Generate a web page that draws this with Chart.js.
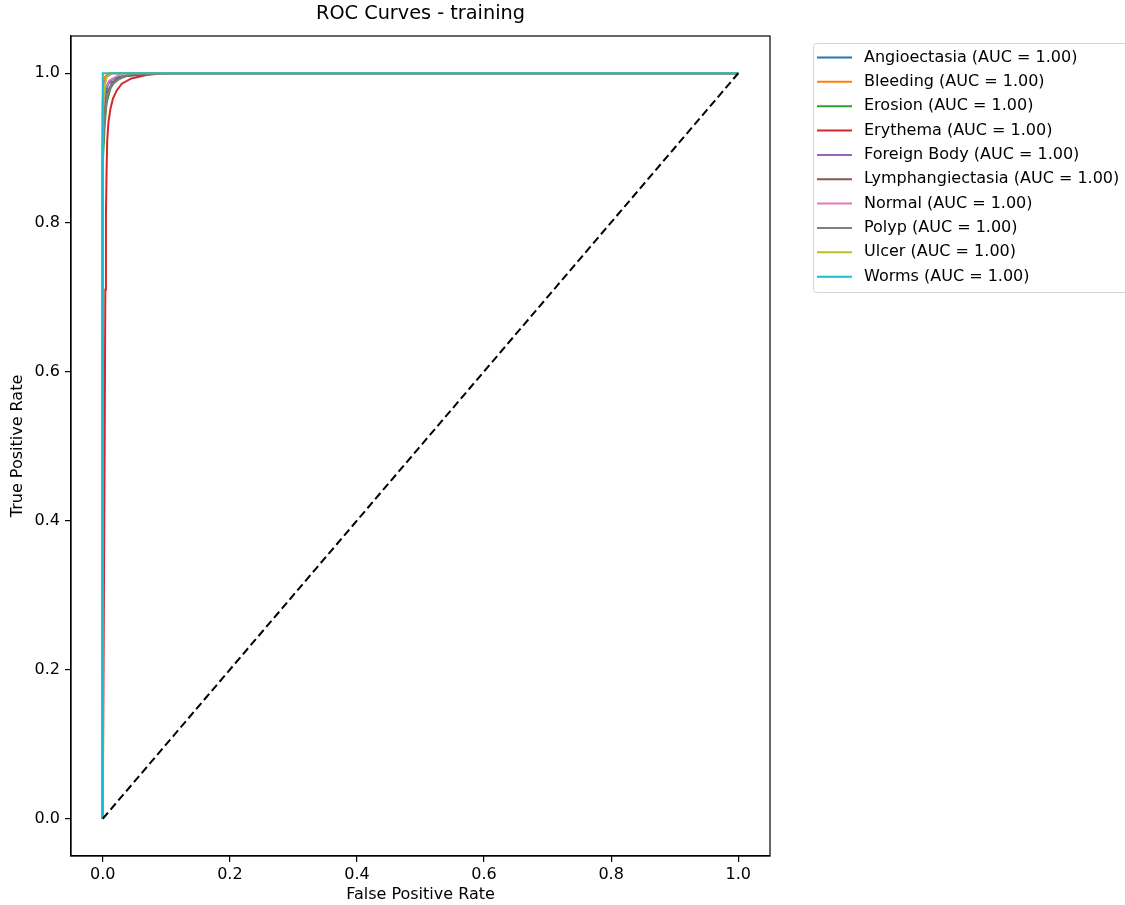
<!DOCTYPE html>
<html>
<head>
<meta charset="utf-8">
<script src="https://cdn.jsdelivr.net/npm/chart.js@4"></script>
<style>
  html, body { margin: 0; padding: 0; background: #fff; }
  #wrap { width: 1125px; height: 905px; }
</style>
</head>
<body>
<div id="wrap"><canvas id="roc" width="1125" height="905"></canvas></div>
<script>
const chartTitle = "ROC Curves - training";
const xTitle = "False Positive Rate";
const yTitle = "True Positive Rate";
const xTicks = [0, 0.2, 0.4, 0.6, 0.8, 1.0];
const yTicks = [0, 0.2, 0.4, 0.6, 0.8, 1.0];

const classNames = ["Angioectasia", "Bleeding", "Erosion", "Erythema", "Foreign Body",
  "Lymphangiectasia", "Normal", "Polyp", "Ulcer", "Worms"];
const aucValues = [1.00, 1.00, 1.00, 1.00, 1.00, 1.00, 1.00, 1.00, 1.00, 1.00];
const classColors = ["#1f77b4", "#ff7f0e", "#2ca02c", "#d62728", "#9467bd",
  "#8c564b", "#e377c2", "#7f7f7f", "#bcbd22", "#17becf"];

// ROC points per class (fpr, tpr)
const angioFpr = [0, 0, 0.002, 0.004, 0.008, 0.015, 0.03, 0.06, 0.1, 1];
const angioTpr = [0, 0.92, 0.95, 0.97, 0.985, 0.992, 0.996, 0.998, 1, 1];
const bleedFpr = [0, 0, 0.003, 0.01, 1];
const bleedTpr = [0, 0.97, 0.995, 1, 1];
const erosionFpr = [0, 0, 0.003, 0.006, 0.012, 0.02, 0.035, 0.06, 1];
const erosionTpr = [0, 0.88, 0.93, 0.96, 0.98, 0.99, 0.996, 1, 1];
const erythemaFpr = [0, 0.003, 0.004, 0.005, 0.006, 0.007, 0.009, 0.012, 0.016, 0.022, 0.03, 0.045, 0.07, 0.1, 1];
const erythemaTpr = [0, 0.5, 0.71, 0.81, 0.87, 0.91, 0.935, 0.952, 0.966, 0.977, 0.986, 0.993, 0.998, 1, 1];
const foreignFpr = [0, 0, 0.002, 0.006, 0.015, 1];
const foreignTpr = [0, 0.96, 0.985, 0.995, 1, 1];
const lymphFpr = [0, 0, 0.003, 0.008, 0.015, 0.03, 0.05, 0.08, 1];
const lymphTpr = [0, 0.9, 0.95, 0.975, 0.988, 0.995, 0.998, 1, 1];
const normalFpr = [0, 0, 0.004, 0.01, 0.02, 0.03, 1];
const normalTpr = [0, 0.95, 0.98, 0.99, 0.995, 1, 1];
const polypFpr = [0, 0, 0.003, 0.007, 0.015, 0.03, 0.05, 1];
const polypTpr = [0, 0.9, 0.94, 0.97, 0.985, 0.995, 1, 1];
const ulcerFpr = [0, 0, 0.002, 0.006, 0.015, 1];
const ulcerTpr = [0, 0.94, 0.98, 0.995, 1, 1];
const wormsFpr = [0, 0, 1];
const wormsTpr = [0, 1, 1];
const chanceFpr = [0, 1];
const chanceTpr = [0, 1];

const fprList = [angioFpr, bleedFpr, erosionFpr, erythemaFpr, foreignFpr, lymphFpr, normalFpr, polypFpr, ulcerFpr, wormsFpr];
const tprList = [angioTpr, bleedTpr, erosionTpr, erythemaTpr, foreignTpr, lymphTpr, normalTpr, polypTpr, ulcerTpr, wormsTpr];

const fontFamily = "'DejaVu Sans', sans-serif";

function toPoints(xs, ys) {
  return xs.map((x, i) => ({ x: x, y: ys[i] }));
}

const datasets = classNames.map((name, i) => ({
  label: name + " (AUC = " + aucValues[i].toFixed(2) + ")",
  data: toPoints(fprList[i], tprList[i]),
  borderColor: classColors[i],
  borderWidth: 2,
  pointRadius: 0,
  fill: false,
  tension: 0,
  order: 20 - i, // matplotlib style: later series on top
}));

datasets.push({
  label: "chance",
  data: toPoints(chanceFpr, chanceTpr),
  borderColor: "#000",
  borderWidth: 2,
  borderDash: [8, 4],
  pointRadius: 0,
  fill: false,
  order: 0,
  showInLegend: false,
});

// frame, title and legend in matplotlib style
const mplPlugin = {
  id: "mplPlugin",
  afterDraw(chart) {
    const ctx = chart.ctx;
    const a = chart.chartArea;
    ctx.save();
    ctx.strokeStyle = "#000";
    ctx.lineWidth = 1.2;
    ctx.strokeRect(a.left, a.top, a.right - a.left, a.bottom - a.top);

    ctx.fillStyle = "#000";
    ctx.font = "19.3px " + fontFamily;
    ctx.textAlign = "center";
    ctx.textBaseline = "middle";
    ctx.fillText(chartTitle, (a.left + a.right) / 2, 14);

    // legend
    const lx = 813, ly = 43, lw = 330, lh = 249;
    ctx.globalAlpha = 0.8;
    ctx.fillStyle = "#fff";
    ctx.strokeStyle = "#cccccc";
    ctx.lineWidth = 1;
    ctx.beginPath();
    ctx.roundRect(lx + 0.5, ly + 0.5, lw, lh, 3);
    ctx.fill();
    ctx.stroke();
    ctx.globalAlpha = 1;
    ctx.font = "16px " + fontFamily;
    ctx.textAlign = "left";
    let row = 0;
    chart.data.datasets.forEach((ds) => {
      if (ds.showInLegend === false) return;
      const y = 57.5 + row * 24.35;
      ctx.strokeStyle = ds.borderColor;
      ctx.lineWidth = 2;
      ctx.beginPath();
      ctx.moveTo(817, y);
      ctx.lineTo(852, y);
      ctx.stroke();
      ctx.fillStyle = "#000";
      ctx.fillText(ds.label, 864, y);
      row++;
    });
    ctx.restore();
  },
};

const tickFont = { family: fontFamily, size: 16 };

new Chart(document.getElementById("roc"), {
  type: "line",
  data: { datasets: datasets },
  options: {
    responsive: false,
    animation: false,
    layout: { padding: { top: 36, right: 355, left: 0, bottom: 0 } },
    plugins: {
      legend: { display: false },
      tooltip: { enabled: false },
      title: { display: false },
    },
    scales: {
      x: {
        type: "linear",
        min: -0.05,
        max: 1.05,
        afterBuildTicks: (scale) => { scale.ticks = xTicks.map((v) => ({ value: v })); },
        afterFit: (scale) => { scale.height = 49; },
        ticks: {
          color: "#000",
          font: tickFont,
          padding: 3,
          maxRotation: 0,
          callback: (v) => Number(v).toFixed(1),
        },
        grid: { drawOnChartArea: false, drawTicks: true, tickLength: 6, color: "#000", lineWidth: 1.2 },
        border: { display: true, color: "#000", width: 1.2 },
        title: { display: true, text: xTitle, color: "#000", font: tickFont, padding: { top: 4, bottom: 1 } },
      },
      y: {
        type: "linear",
        min: -0.05,
        max: 1.05,
        afterBuildTicks: (scale) => { scale.ticks = yTicks.map((v) => ({ value: v })); },
        afterFit: (scale) => { scale.width = 71; },
        ticks: {
          color: "#000",
          font: tickFont,
          padding: 5,
          callback: (v) => Number(v).toFixed(1),
        },
        grid: { drawOnChartArea: false, drawTicks: true, tickLength: 6, color: "#000", lineWidth: 1.2 },
        border: { display: true, color: "#000", width: 1.2 },
        title: { display: true, text: yTitle, color: "#000", font: tickFont, padding: { top: 8, bottom: 4 } },
      },
    },
  },
  plugins: [mplPlugin],
});
</script>
</body>
</html>
